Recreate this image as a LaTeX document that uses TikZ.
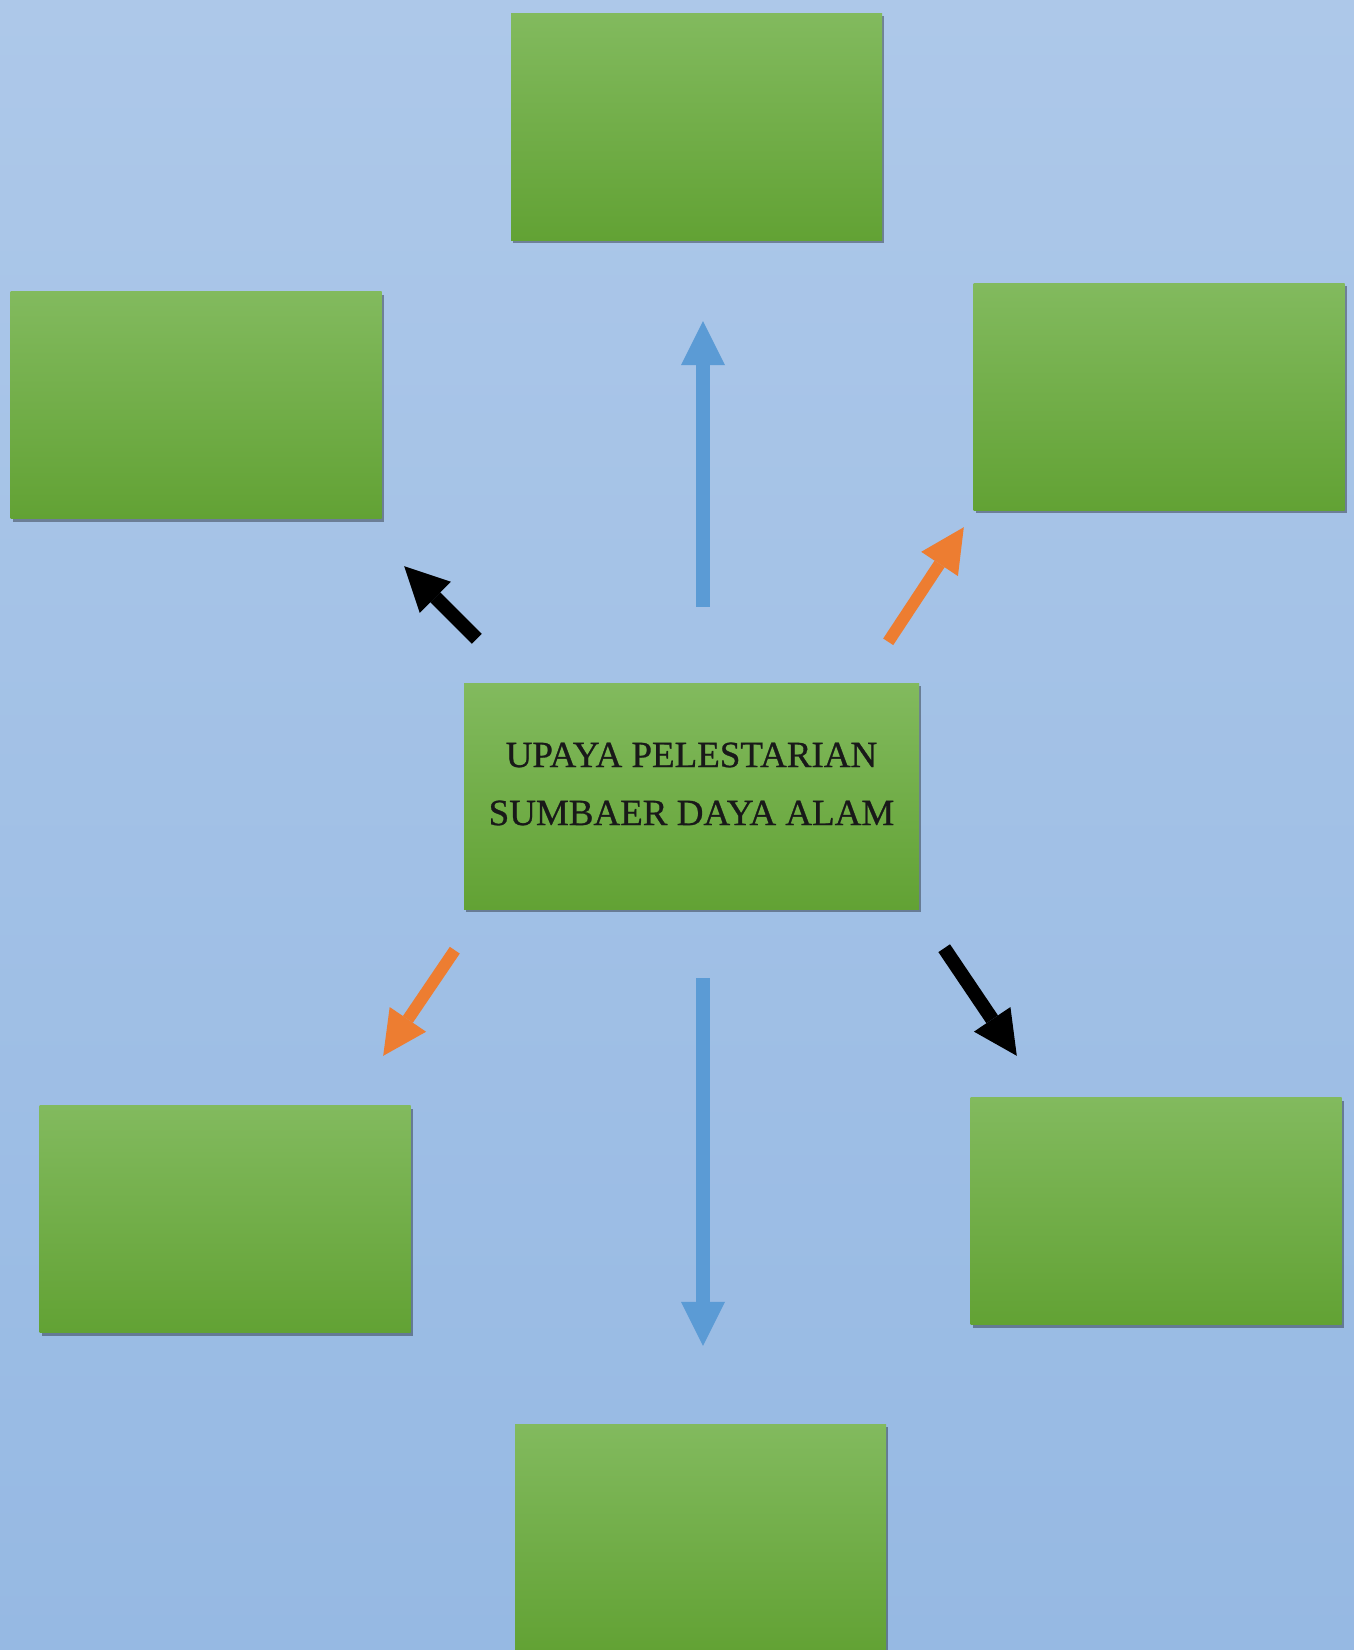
\documentclass[tikz,border=0pt]{standalone}
\usepackage{fontspec}
\setmainfont{Liberation Serif}
\newfontfamily\boxfont[FakeBold=0.8]{Liberation Serif}
\usetikzlibrary{arrows.meta,shadows}

\definecolor{bgtop}{RGB}{173,200,233}
\definecolor{bgbot}{RGB}{150,185,227}
\definecolor{boxtop}{RGB}{130,186,94}
\definecolor{boxmid}{RGB}{112,178,65}
\definecolor{boxbot}{RGB}{98,162,52}
\definecolor{arrblue}{RGB}{91,155,213}
\definecolor{arrorange}{RGB}{237,125,49}

\begin{document}
\begin{tikzpicture}[
x=1pt, y=-1pt,
box/.style={
top color=boxtop,
middle color=boxmid,
bottom color=boxbot,
draw=none,
minimum width=371pt,
minimum height=227pt,
inner sep=0pt,
drop shadow={shadow xshift=2pt, shadow yshift=-3pt, fill=black, opacity=0.35},
},
myarrow/.style={
-{Triangle[width=44pt,length=44pt,line width=0pt]},
line width=14pt,
},
]
\useasboundingbox (0,0) rectangle (1354,1650);
\fill[top color=bgtop, bottom color=bgbot] (0,0) rectangle (1354,1650);

\node[box] at (696.5,126.5) (top) {};
\node[box] at (196,405) (nw) {};
\node[box] at (1159,396.5) (ne) {};
\node[box, minimum width=455pt, minimum height=226pt] at (691.5,796) (mid) {};
\node[box] at (225,1219) (sw) {};
\node[box] at (1156,1211) (se) {};
\node[box] at (700.5,1537.5) (bot) {};

\node[align=center, inner sep=0pt, text=black!90, font=\boxfont\fontsize{37}{58}\selectfont]
  at ([yshift=12pt]mid.center) (midtext) {UPAYA PELESTARIAN\\SUMBAER DAYA ALAM};

\draw[myarrow, arrblue] ([shift={(11.5,-76)}]mid.north) -- ([shift={(6.5,81)}]top.south);
\draw[myarrow, arrblue] ([shift={(11.5,69)}]mid.south) -- ([shift={(2.5,-78)}]bot.north);
\draw[myarrow, black] ([shift={(13,-44)}]mid.north west) -- ([shift={(22.5,47.5)}]nw.south east);
\draw[myarrow, arrorange, line width=12pt] ([shift={(-31,-41)}]mid.north east) -- ([shift={(-9.5,17)}]ne.south west);
\draw[myarrow, arrorange, line width=12pt] ([shift={(-9,41)}]mid.south west) -- ([shift={(-27.5,-49.5)}]sw.north east);
\draw[myarrow, black] ([shift={(25,39)}]mid.south east) -- ([shift={(46.5,-41.5)}]se.north west);

\end{tikzpicture}
\end{document}
